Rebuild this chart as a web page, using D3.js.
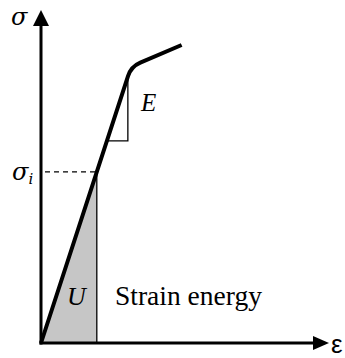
<!DOCTYPE html>
<html>
<head>
<meta charset="utf-8">
<script src="https://cdn.jsdelivr.net/npm/d3@7/dist/d3.min.js"></script>
<style>
  html, body { margin: 0; padding: 0; background: #fff; }
  svg { display: block; }
</style>
</head>
<body>
<script>
// Stress–strain curve: linear elastic branch, then a hardening branch
const curveStrain = [0, 31.4, 49];
const curveStress = [0, 83, 89.5];
// Stress level at which the strain energy is taken
const sigmaI = 51.4;
// Stress range of the slope triangle marking E
const slopeTriangle = [60.7, 80];
const labels = { y: "σ", x: "ε", sigmaI: "σ", sub: "i", modulus: "E", energy: "U", energyText: "Strain energy" };

const W = 345, H = 358;
const x = d3.scaleLinear().domain([0, 100]).range([41, 328]);
const y = d3.scaleLinear().domain([0, 100]).range([343, 10]);
const modulus = curveStress[1] / curveStrain[1];
const strainAt = s => s / modulus;

const svg = d3.select("body").append("svg").attr("width", W).attr("height", H);

// Strain energy area under the elastic branch
const eI = strainAt(sigmaI);
svg.append("path")
  .attr("d", d3.line()([[x(0), y(0)], [x(eI), y(sigmaI)], [x(eI), y(0)]]) + "Z")
  .attr("fill", "#c6c6c6");
svg.append("line")
  .attr("x1", x(eI)).attr("x2", x(eI)).attr("y1", y(sigmaI)).attr("y2", y(0))
  .attr("stroke", "#000").attr("stroke-width", 1.3);

// Dashed guide to the stress axis
svg.append("line")
  .attr("x1", x(1.4)).attr("x2", x(eI)).attr("y1", y(sigmaI)).attr("y2", y(sigmaI))
  .attr("stroke", "#000").attr("stroke-width", 1.2).attr("stroke-dasharray", "5,4");

// Slope triangle
const [tLo, tHi] = slopeTriangle;
svg.append("path")
  .attr("d", d3.line()([[x(strainAt(tLo)), y(tLo)], [x(strainAt(tHi)), y(tLo)], [x(strainAt(tHi)), y(tHi)]]))
  .attr("fill", "none").attr("stroke", "#000").attr("stroke-width", 1.3);

// Curve with a rounded knee
const pts = curveStrain.map((e, i) => [x(e), y(curveStress[i])]);
function toward(a, b, d) {
  const dx = b[0] - a[0], dy = b[1] - a[1], L = Math.hypot(dx, dy);
  return [a[0] + dx / L * d, a[1] + dy / L * d];
}
const r = 10;
const before = toward(pts[1], pts[0], r), after = toward(pts[1], pts[2], r);
const p = d3.path();
p.moveTo(pts[0][0], pts[0][1]);
p.lineTo(before[0], before[1]);
p.quadraticCurveTo(pts[1][0], pts[1][1], after[0], after[1]);
p.lineTo(pts[2][0], pts[2][1]);
svg.append("path").attr("d", p.toString())
  .attr("fill", "none").attr("stroke", "#000").attr("stroke-width", 4)
  .attr("stroke-linejoin", "round");

// Axes with arrowheads
svg.append("line").attr("x1", x(0)).attr("x2", x(0)).attr("y1", y(0) + 1.5).attr("y2", y(96))
  .attr("stroke", "#000").attr("stroke-width", 3);
svg.append("line").attr("x1", x(0) - 1.5).attr("x2", x(95)).attr("y1", y(0)).attr("y2", y(0))
  .attr("stroke", "#000").attr("stroke-width", 3);
svg.append("path")
  .attr("d", `M${x(0)},${y(100)}L${x(0) + 8},${y(100) + 16}L${x(0) - 8},${y(100) + 16}Z`);
svg.append("path")
  .attr("d", `M${x(100) + 1},${y(0)}L${x(100) - 15},${y(0) - 7}L${x(100) - 15},${y(0) + 7}Z`);

// Labels
const serif = "'Liberation Serif', 'Times New Roman', serif";
const greek = "'DejaVu Serif', serif";
svg.append("text").attr("x", 11).attr("y", 25)
  .attr("font-family", greek).attr("font-style", "italic").attr("font-size", 24).text(labels.y);
const si = svg.append("text").attr("x", 12).attr("y", y(sigmaI) + 8)
  .attr("font-family", greek).attr("font-style", "italic").attr("font-size", 24);
si.append("tspan").text(labels.sigmaI);
si.append("tspan").attr("dy", 4).attr("font-size", 15).text(labels.sub);
svg.append("text").attr("x", 331).attr("y", 353)
  .attr("font-family", "'Liberation Sans', Arial, sans-serif").attr("font-size", 26).text(labels.x);
svg.append("text").attr("x", 141).attr("y", 111)
  .attr("font-family", serif).attr("font-style", "italic").attr("font-size", 25).text(labels.modulus);
svg.append("text").attr("x", 67).attr("y", 305)
  .attr("font-family", serif).attr("font-style", "italic").attr("font-size", 26).text(labels.energy);
svg.append("text").attr("x", 115).attr("y", 305)
  .attr("font-family", serif).attr("font-size", 27.5).text(labels.energyText);
</script>
</body>
</html>
